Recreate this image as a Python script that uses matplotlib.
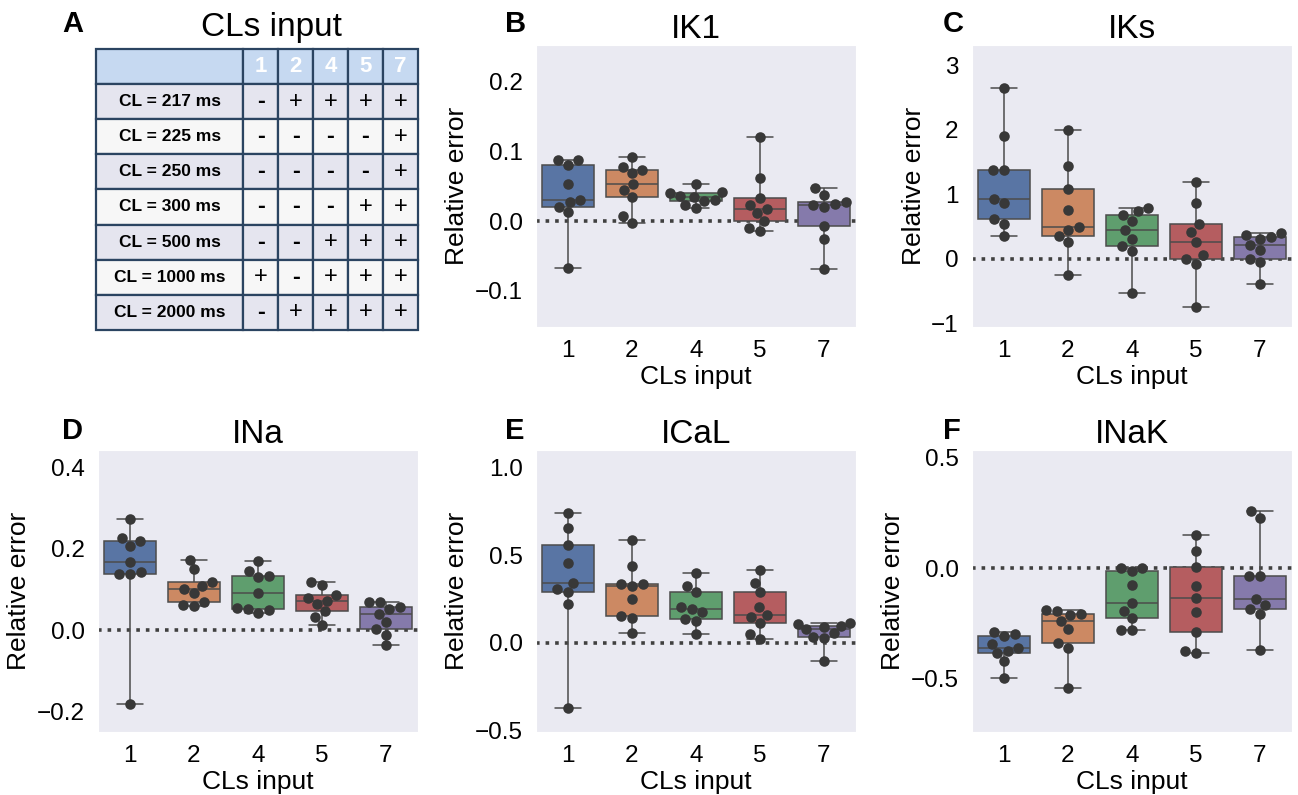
import numpy as np
import pandas as pd
import matplotlib
matplotlib.use('Agg')
import matplotlib.pyplot as plt
import seaborn as sns

# CLs input groups
cls_input = ['1', '2', '4', '5', '7']

# relative error per group (9 models each)
ik1 = [
    [-0.068, 0.013, 0.021, 0.028, 0.031, 0.054, 0.081, 0.088, 0.088],
    [-0.002, 0.007, 0.034, 0.045, 0.054, 0.069, 0.073, 0.078, 0.092],
    [0.019, 0.023, 0.029, 0.031, 0.034, 0.036, 0.040, 0.042, 0.054],
    [-0.014, -0.010, 0.0, 0.011, 0.017, 0.023, 0.033, 0.062, 0.121],
    [-0.069, -0.025, -0.007, 0.021, 0.023, 0.025, 0.027, 0.038, 0.047],
]
iks = [
    [0.35, 0.53, 0.61, 0.86, 0.92, 1.38, 1.38, 1.90, 2.64],
    [-0.26, 0.25, 0.35, 0.44, 0.49, 0.75, 1.08, 1.43, 1.99],
    [-0.54, 0.12, 0.19, 0.31, 0.44, 0.59, 0.68, 0.73, 0.78],
    [-0.75, -0.08, 0.0, 0.05, 0.26, 0.41, 0.53, 0.86, 1.19],
    [-0.39, -0.06, 0.0, 0.13, 0.21, 0.30, 0.34, 0.36, 0.39],
]
ina = [
    [-0.182, 0.137, 0.137, 0.142, 0.168, 0.207, 0.218, 0.225, 0.274],
    [0.060, 0.062, 0.070, 0.091, 0.101, 0.109, 0.118, 0.149, 0.173],
    [0.042, 0.050, 0.051, 0.055, 0.092, 0.130, 0.133, 0.145, 0.169],
    [0.013, 0.033, 0.046, 0.064, 0.072, 0.080, 0.086, 0.110, 0.117],
    [-0.037, -0.011, 0.002, 0.020, 0.040, 0.052, 0.058, 0.068, 0.068],
]
ical = [
    [-0.372, 0.221, 0.287, 0.306, 0.340, 0.457, 0.557, 0.655, 0.740],
    [0.055, 0.142, 0.155, 0.247, 0.321, 0.334, 0.334, 0.438, 0.585],
    [0.051, 0.126, 0.138, 0.175, 0.192, 0.205, 0.287, 0.325, 0.396],
    [0.023, 0.047, 0.113, 0.145, 0.160, 0.202, 0.289, 0.343, 0.415],
    [-0.104, 0.028, 0.034, 0.053, 0.079, 0.091, 0.098, 0.104, 0.113],
]
inak = [
    [-0.500, -0.424, -0.388, -0.379, -0.364, -0.345, -0.311, -0.300, -0.291],
    [-0.544, -0.361, -0.341, -0.276, -0.239, -0.215, -0.209, -0.194, -0.189],
    [-0.283, -0.283, -0.227, -0.194, -0.159, -0.079, -0.015, 0.0, 0.0],
    [-0.386, -0.376, -0.291, -0.198, -0.136, -0.082, 0.003, 0.079, 0.152],
    [-0.373, -0.209, -0.185, -0.167, -0.139, -0.036, -0.036, 0.227, 0.258],
]

# table A
row_labels = ['CL = 217 ms', 'CL = 225 ms', 'CL = 250 ms', 'CL = 300 ms',
              'CL = 500 ms', 'CL = 1000 ms', 'CL = 2000 ms']
table_marks = [
    ['-', '+', '+', '+', '+'],
    ['-', '-', '-', '-', '+'],
    ['-', '-', '-', '-', '+'],
    ['-', '-', '-', '+', '+'],
    ['-', '-', '+', '+', '+'],
    ['+', '-', '+', '+', '+'],
    ['-', '+', '+', '+', '+'],
]

sns.set_style('dark')
plt.rcParams['font.family'] = ['Liberation Sans', 'DejaVu Sans']
plt.rcParams['text.color'] = 'black'
plt.rcParams['axes.labelcolor'] = 'black'
plt.rcParams['xtick.color'] = 'black'
plt.rcParams['ytick.color'] = 'black'

fig = plt.figure(figsize=(12.98, 7.95), dpi=100)

# --- panel A: table
ax_t = fig.add_axes([0.074, 0.585, 0.248, 0.3535])
ax_t.axis('off')
cell_text = [[''] + cls_input] + [[lab] + marks for lab, marks in zip(row_labels, table_marks)]
tbl = ax_t.table(cellText=cell_text, bbox=[0, 0, 1, 1],
                 colWidths=[0.457] + [0.1086] * 5, cellLoc='center')
tbl.auto_set_font_size(False)
for (r, c), cell in tbl.get_celld().items():
    cell.set_edgecolor('#2b4461')
    cell.set_linewidth(1.6)
    if r == 0:
        cell.set_facecolor('#c6d9f1')
        cell.get_text().set_color('white')
        cell.get_text().set_fontsize(16)
        cell.get_text().set_fontweight('bold')
    else:
        cell.set_facecolor('#e5e5ef' if r % 2 == 1 else '#f7f7f7')
        if c == 0:
            cell.get_text().set_fontsize(12.5)
            cell.get_text().set_fontweight('bold')
        else:
            cell.get_text().set_fontsize(17)
            if cell.get_text().get_text() == '-':
                cell.get_text().set_fontweight('bold')
fig.text(0.209, 0.955, 'CLs input', ha='center', va='baseline', fontsize=24)

# --- box + swarm panels
panels = [
    ('IK1', ik1, [0.4129, 0.5887], (-0.152, 0.253), [-0.1, 0.0, 0.1, 0.2], '{:.1f}'),
    ('IKs', iks, [0.7488, 0.5887], (-1.06, 3.31), [-1, 0, 1, 2, 3], '{:.0f}'),
    ('INa', ina, [0.0755, 0.0792], (-0.25, 0.442), [-0.2, 0.0, 0.2, 0.4], '{:.1f}'),
    ('ICaL', ical, [0.4129, 0.0792], (-0.51, 1.10), [-0.5, 0.0, 0.5, 1.0], '{:.1f}'),
    ('INaK', inak, [0.7488, 0.0792], (-0.745, 0.536), [-0.5, 0.0, 0.5], '{:.1f}'),
]

for title, vals, (left, bottom), ylim, yticks, fmt in panels:
    ax = fig.add_axes([left, bottom, 0.2465, 0.3547])
    df = pd.DataFrame({
        'CLs input': np.repeat(cls_input, [len(v) for v in vals]),
        'err': np.concatenate(vals),
    })
    ax.axhline(0, ls=':', color='.25', lw=2.6, zorder=0.5)
    sns.boxplot(data=df, x='CLs input', y='err', hue='CLs input', order=cls_input,
                hue_order=cls_input, palette='deep', legend=False, whis=(0, 100),
                linewidth=1.1, ax=ax)
    sns.swarmplot(data=df, x='CLs input', y='err', order=cls_input, color='.22',
                  size=7.6, ax=ax)
    ax.set_ylim(*ylim)
    ax.set_yticks(yticks)
    ax.set_yticklabels([fmt.format(t).replace('-', '\u2212') for t in yticks])
    ax.set_title(title, fontsize=24, pad=5)
    ax.set_xlabel('CLs input', fontsize=19, labelpad=2)
    ax.set_ylabel('Relative error', fontsize=19)
    ax.tick_params(labelsize=17.5, pad=6)

# panel letters
for letter, x, y in [('A', 0.048, 0.988), ('B', 0.389, 0.988), ('C', 0.7265, 0.988),
                     ('D', 0.048, 0.475), ('E', 0.389, 0.475), ('F', 0.7265, 0.475)]:
    fig.text(x, y, letter, fontsize=21, fontweight='bold', va='top', ha='left')

fig.savefig('out.png', dpi=100)
